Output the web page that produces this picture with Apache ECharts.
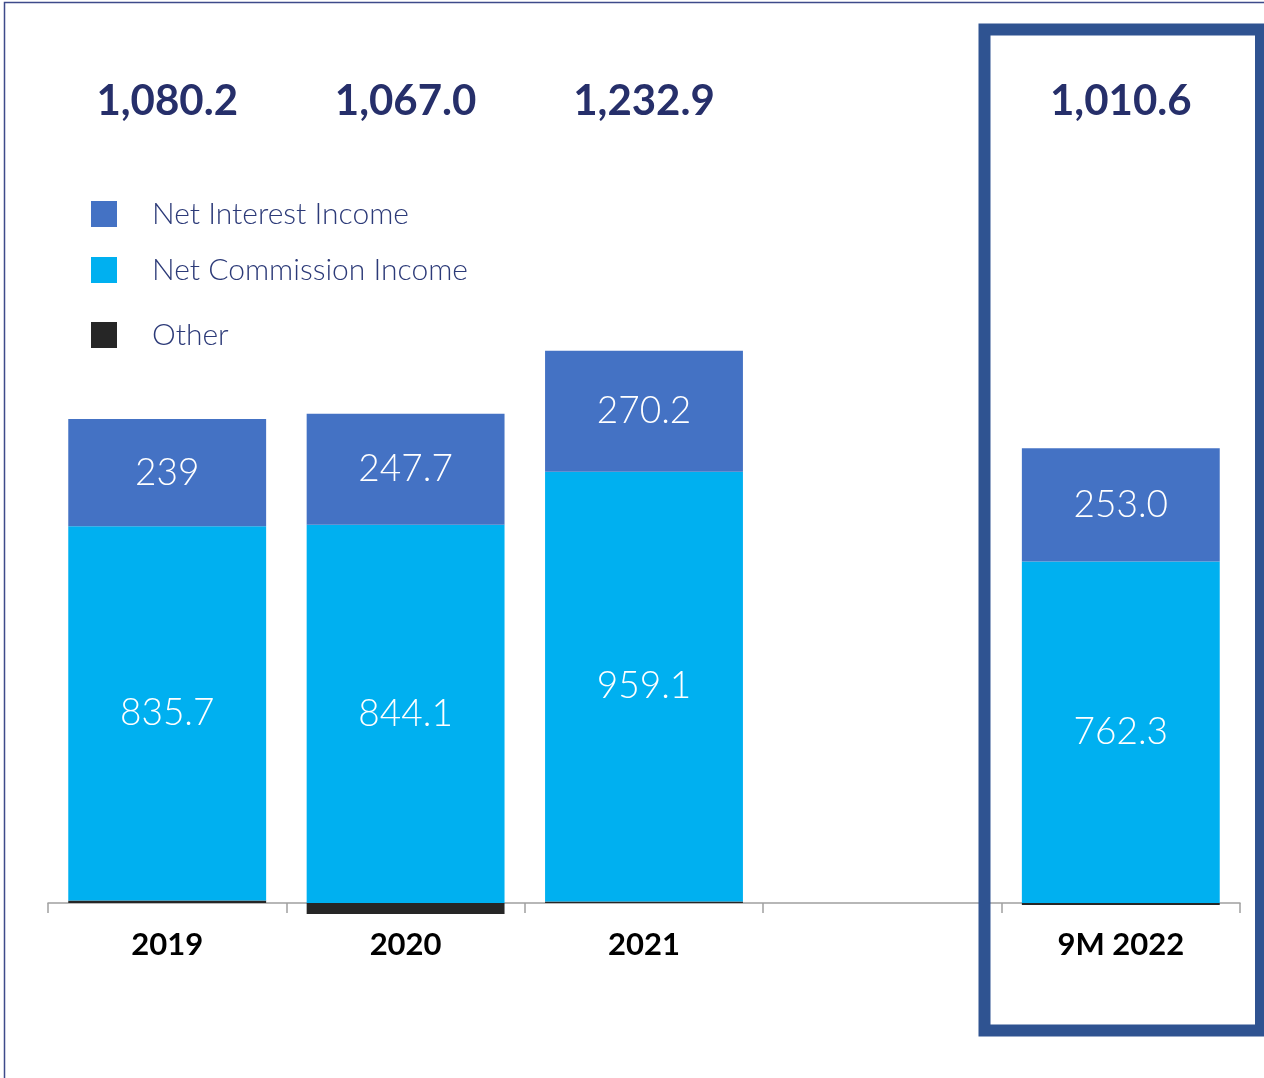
<!DOCTYPE html>
<html>
<head>
<meta charset="utf-8">
<style>
  html, body { margin: 0; padding: 0; background: #ffffff; }
  #chart { width: 1264px; height: 1078px; }
</style>
<script src="https://cdn.jsdelivr.net/npm/echarts@6/dist/echarts.min.js"></script>
</head>
<body>
<div id="chart"></div>
<script>
// Operating income breakdown by period (the blank slot separates full years from 9M 2022)
const categories = ['2019', '2020', '2021', '', '9M 2022'];
const netInterestIncome = [239, 247.7, 270.2, null, 253.0];
const netCommissionIncome = [835.7, 844.1, 959.1, null, 762.3];
const otherIncome = [5.5, -24.8, 3.6, null, -4.7];
const totals = [1080.2, 1067.0, 1232.9, null, 1010.6];

const totalLabels = totals.map(function (v) {
  return v == null ? '' : v.toLocaleString('en-US', { minimumFractionDigits: 1, maximumFractionDigits: 1 });
});
const niiLabels = ['239', '247.7', '270.2', '', '253.0'];
const nciLabels = ['835.7', '844.1', '959.1', '', '762.3'];

const NAVY = '#262f6a';
const FONT = 'Lato, "Noto Sans", sans-serif';

const chart = echarts.init(document.getElementById('chart'), null, { renderer: 'canvas' });

function legendItem(name, top) {
  return {
    data: [name],
    left: 91,
    top: top,
    padding: 0,
    orient: 'vertical',
    icon: 'rect',
    itemWidth: 26,
    itemHeight: 26,
    selectedMode: false,
    textStyle: {
      fontFamily: FONT,
      fontSize: 30,
      fontWeight: 300,
      color: '#2c3a78',
      padding: [0, 0, 0, 30]
    }
  };
}

const option = {
  animation: false,
  backgroundColor: '#ffffff',
  grid: { left: 48, right: 24, top: 231, height: 672, containLabel: false },
  legend: [
    legendItem('Net Interest Income', 199),
    legendItem('Net Commission Income', 255),
    legendItem('Other', 320)
  ],
  xAxis: {
    type: 'category',
    data: categories,
    axisLine: { onZero: true, lineStyle: { color: '#a0a0a0', width: 1.5 } },
    axisTick: { show: true, length: 10, lineStyle: { color: '#a0a0a0', width: 1.5 } },
    axisLabel: {
      margin: 26,
      fontFamily: FONT,
      fontSize: 31,
      fontWeight: 'bold',
      color: '#000000'
    },
    splitLine: { show: false }
  },
  yAxis: {
    type: 'value',
    min: 0,
    max: 1500,
    show: false,
    splitLine: { show: false }
  },
  series: [
    {
      name: 'Other',
      type: 'bar',
      stack: 'income',
      barWidth: '83%',
      clip: false,
      data: otherIncome,
      itemStyle: { color: '#262626' }
    },
    {
      name: 'Net Commission Income',
      type: 'bar',
      stack: 'income',
      barWidth: '83%',
      clip: false,
      data: netCommissionIncome,
      itemStyle: { color: '#00b0f0' },
      label: {
        show: true,
        position: 'inside',
        formatter: function (p) { return nciLabels[p.dataIndex]; },
        fontFamily: FONT,
        fontSize: 37,
        fontWeight: 300,
        color: '#ffffff'
      }
    },
    {
      name: 'Net Interest Income',
      type: 'bar',
      stack: 'income',
      barWidth: '83%',
      clip: false,
      data: netInterestIncome,
      itemStyle: { color: '#4472c4' },
      label: {
        show: true,
        position: 'inside',
        formatter: function (p) { return niiLabels[p.dataIndex]; },
        fontFamily: FONT,
        fontSize: 37,
        fontWeight: 300,
        color: '#ffffff'
      }
    },
    {
      // period totals written in a row above the bars
      name: 'Total',
      type: 'custom',
      silent: true,
      clip: false,
      data: totals.map(function (v, i) { return [i, v]; }),
      renderItem: function (params, api) {
        const idx = api.value(0);
        const label = totalLabels[idx];
        if (!label) return null;
        const x = api.coord([idx, 0])[0];
        return {
          type: 'text',
          style: {
            x: x,
            y: 101,
            text: label,
            align: 'center',
            verticalAlign: 'middle',
            font: 'bold 42px ' + FONT,
            fill: NAVY
          }
        };
      }
    }
  ],
  graphic: [
    {
      type: 'rect',
      silent: true,
      z: -1,
      shape: { x: 4.5, y: 2.5, width: 1300, height: 1100 },
      style: { fill: null, stroke: '#3d4a8a', lineWidth: 1.5 }
    },
    {
      type: 'rect',
      silent: true,
      z: 10,
      shape: { x: 984.5, y: 29.5, width: 276.5, height: 1001 },
      style: { fill: null, stroke: '#2f5391', lineWidth: 12 }
    }
  ]
};

chart.setOption(option);
</script>
</body>
</html>
